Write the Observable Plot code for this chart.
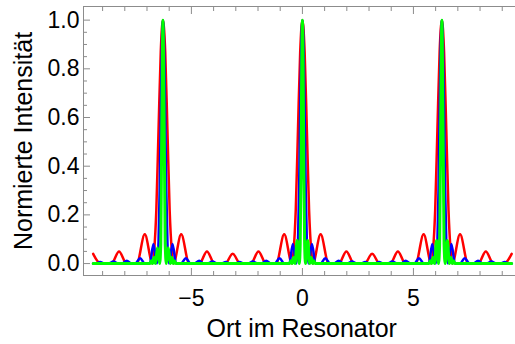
<!DOCTYPE html>
<html><head><meta charset="utf-8">
<script src="https://cdn.jsdelivr.net/npm/d3@7"></script>
<script src="https://cdn.jsdelivr.net/npm/@observablehq/plot@0.6"></script>
<style>
html,body{margin:0;padding:0;overflow:hidden;background:#fff;}
#chart{width:515px;height:344px;overflow:hidden;}
#chart svg{overflow:hidden;max-width:none !important;width:530px !important;height:344px !important;}
</style></head><body><div id="chart"></div>
<script>
// Tick values
const xMajorTicks = [-5, 0, 5];
const xMinorTicks = [-9, -8, -7, -6, -4, -3, -2, -1, 1, 2, 3, 4, 6, 7, 8, 9];
const yMajorTicks = [0, 0.2, 0.4, 0.6, 0.8, 1.0];
const yMinorTicks = [0.05, 0.1, 0.15, 0.25, 0.3, 0.35, 0.45, 0.5, 0.55, 0.65, 0.7, 0.75, 0.85, 0.9, 0.95];

// Axis labels
const xTitle = "Ort im Resonator";
const yTitle = "Normierte Intensität";

// Red curve: [position, intensity]
const redCurve = [
  [-9.425,0.04],[-9.09,0],[-8.60,0],[-8.26,0.05],[-7.92,0],[-7.46,0],[-7.10,0.12],[-6.75,0],
  [-6.68,0.05],[-6.58,0.22],[-6.48,0.55],[-6.38,0.87],[-6.283,1],[-6.18,0.87],[-6.08,0.55],[-5.98,0.22],[-5.88,0.05],
  [-5.81,0],[-5.46,0.12],[-5.10,0],[-4.64,0],[-4.30,0.05],[-3.96,0],[-3.48,0],[-3.14,0.04],[-2.80,0],
  [-2.32,0],[-1.98,0.05],[-1.64,0],[-1.18,0],[-0.82,0.12],[-0.47,0],
  [-0.40,0.05],[-0.30,0.22],[-0.20,0.55],[-0.10,0.87],[0,1],[0.10,0.87],[0.20,0.55],[0.30,0.22],[0.40,0.05],
  [0.47,0],[0.82,0.12],[1.18,0],[1.64,0],[1.98,0.05],[2.32,0],[2.80,0],[3.14,0.04],[3.48,0],
  [3.96,0],[4.30,0.05],[4.64,0],[5.10,0],[5.46,0.12],[5.81,0],
  [5.88,0.05],[5.98,0.22],[6.08,0.55],[6.18,0.87],[6.283,1],[6.38,0.87],[6.48,0.55],[6.58,0.22],[6.68,0.05],
  [6.75,0],[7.10,0.12],[7.46,0],[7.92,0],[8.26,0.05],[8.60,0],[9.09,0],[9.425,0.04]
];

// Blue curve
const blueCurve = [
  [-9.425,0],[-9.33,0],[-9.11,0.006],[-8.90,0],[-8.73,0],[-8.51,0.008],[-8.30,0],[-8.13,0],[-7.91,0.012],[-7.70,0],
  [-7.53,0],[-7.31,0.022],[-7.10,0],[-6.87,0],[-6.71,0.08],[-6.55,0],
  [-6.48,0.09],[-6.43,0.3],[-6.38,0.62],[-6.33,0.9],[-6.283,1],[-6.23,0.9],[-6.18,0.62],[-6.13,0.3],[-6.08,0.09],
  [-6.01,0],[-5.85,0.08],[-5.69,0],[-5.47,0],[-5.25,0.022],[-5.04,0],[-4.87,0],[-4.65,0.012],[-4.44,0],
  [-4.27,0],[-4.05,0.008],[-3.84,0],[-3.67,0],[-3.45,0.006],[-3.24,0],[-3.05,0],[-2.83,0.006],[-2.62,0],
  [-2.45,0],[-2.23,0.008],[-2.02,0],[-1.85,0],[-1.63,0.012],[-1.42,0],[-1.25,0],[-1.03,0.022],[-0.82,0],
  [-0.59,0],[-0.43,0.08],[-0.27,0],
  [-0.20,0.09],[-0.15,0.3],[-0.10,0.62],[-0.05,0.9],[0,1],[0.05,0.9],[0.10,0.62],[0.15,0.3],[0.20,0.09],
  [0.27,0],[0.43,0.08],[0.59,0],[0.82,0],[1.03,0.022],[1.25,0],[1.42,0],[1.63,0.012],[1.85,0],
  [2.02,0],[2.23,0.008],[2.45,0],[2.62,0],[2.83,0.006],[3.05,0],[3.24,0],[3.45,0.006],[3.67,0],
  [3.84,0],[4.05,0.008],[4.27,0],[4.44,0],[4.65,0.012],[4.87,0],[5.04,0],[5.25,0.022],[5.47,0],
  [5.69,0],[5.85,0.08],[6.01,0],
  [6.08,0.09],[6.13,0.3],[6.18,0.62],[6.23,0.9],[6.283,1],[6.33,0.9],[6.38,0.62],[6.43,0.3],[6.48,0.09],
  [6.55,0],[6.71,0.08],[6.87,0],[7.10,0],[7.31,0.022],[7.53,0],[7.70,0],[7.91,0.012],[8.13,0],
  [8.30,0],[8.51,0.008],[8.73,0],[8.90,0],[9.11,0.006],[9.33,0],[9.425,0]
];

// Green curve
const greenCurve = [
  [-9.425,0],[-6.87,0],[-6.81,0.012],[-6.75,0],[-6.69,0.025],[-6.62,0],[-6.53,0.065],[-6.43,0],
  [-6.38,0.08],[-6.35,0.38],[-6.31,0.82],[-6.283,1],[-6.25,0.82],[-6.21,0.38],[-6.18,0.08],
  [-6.13,0],[-6.04,0.065],[-5.95,0],[-5.88,0.025],[-5.82,0],[-5.76,0.012],[-5.70,0],
  [-0.58,0],[-0.52,0.012],[-0.46,0],[-0.40,0.025],[-0.33,0],[-0.24,0.095],[-0.14,0],
  [-0.10,0.08],[-0.065,0.38],[-0.03,0.82],[0,1],[0.03,0.82],[0.065,0.38],[0.10,0.08],
  [0.14,0],[0.24,0.095],[0.33,0],[0.40,0.025],[0.46,0],[0.52,0.012],[0.58,0],
  [5.70,0],[5.76,0.012],[5.82,0],[5.88,0.025],[5.95,0],[6.04,0.095],[6.13,0],
  [6.18,0.08],[6.21,0.38],[6.25,0.82],[6.283,1],[6.31,0.82],[6.35,0.38],[6.38,0.08],
  [6.43,0],[6.53,0.095],[6.62,0],[6.69,0.025],[6.75,0],[6.81,0.012],[6.87,0],[9.425,0]
];

const fmtX = d => d < 0 ? "\u2212" + Math.abs(d) : String(d);
const fmtY = d3.format(".1f");
const frameColor = "#8c8c8c";
const font = "Liberation Sans, Arial, sans-serif";

const chart = Plot.plot({
  width: 530,
  height: 344,
  marginLeft: 83,
  marginRight: 10.5,
  marginTop: 6,
  marginBottom: 69,
  style: {fontFamily: font, background: "#fff", overflow: "hidden"},
  x: {domain: [-9.86, 9.8], axis: null},
  y: {domain: [-0.049, 1.056], axis: null},
  marks: [
    Plot.line(redCurve, {x: d => d[0], y: d => d[1], stroke: "rgb(255,0,0)", strokeWidth: 2.5, curve: "monotone-x"}),
    Plot.line(blueCurve, {x: d => d[0], y: d => d[1], stroke: "rgb(0,0,255)", strokeWidth: 2.5, curve: "monotone-x"}),
    Plot.line(greenCurve, {x: d => d[0], y: d => d[1], stroke: "rgb(0,255,0)", strokeWidth: 3, curve: "monotone-x"}),
    Plot.frame({stroke: frameColor, strokeWidth: 1}),
    // bottom & top ticks (inward)
    Plot.axisX(xMajorTicks, {anchor: "bottom", tickSize: -7, tickFormat: () => "", stroke: frameColor, label: null}),
    Plot.axisX(xMinorTicks, {anchor: "bottom", tickSize: -4, tickFormat: () => "", stroke: frameColor, label: null}),
    Plot.axisX(xMajorTicks, {anchor: "top", tickSize: -7, tickFormat: () => "", stroke: frameColor, label: null}),
    Plot.axisX(xMinorTicks, {anchor: "top", tickSize: -4, tickFormat: () => "", stroke: frameColor, label: null}),
    Plot.axisY(yMajorTicks, {anchor: "left", tickSize: -7, tickFormat: () => "", stroke: frameColor, label: null}),
    Plot.axisY(yMinorTicks, {anchor: "left", tickSize: -4, tickFormat: () => "", stroke: frameColor, label: null}),
    // tick labels
    Plot.axisX(xMajorTicks, {anchor: "bottom", tickSize: 0, tickPadding: 14, tickFormat: fmtX, fontSize: 23, fill: "#000", label: null}),
    Plot.axisY(yMajorTicks, {anchor: "left", tickSize: 0, tickPadding: 4, tickFormat: fmtY, fontSize: 23, fill: "#000", label: null}),
    // axis titles
    Plot.text([xTitle], {text: d => d, frameAnchor: "bottom", dy: 61, fontSize: 25, fill: "#000"}),
    Plot.text([yTitle], {text: d => d, frameAnchor: "left", textAnchor: "middle", dx: -60, rotate: -90, fontSize: 25, fill: "#000"})
  ]
});
document.getElementById("chart").appendChild(chart);
</script></body></html>
